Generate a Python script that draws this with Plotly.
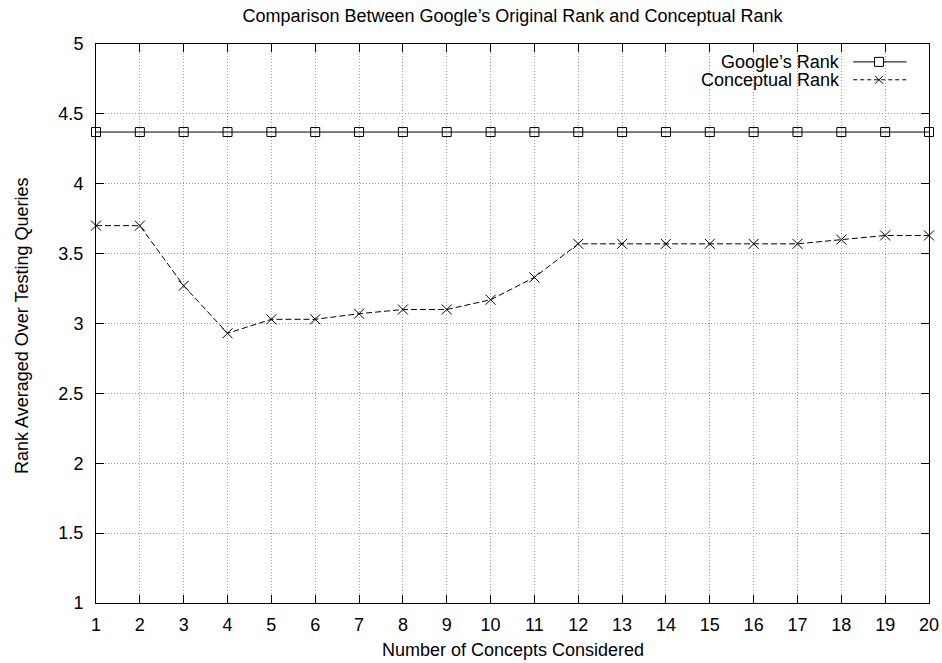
import plotly.graph_objects as go

concepts = list(range(1, 21))
google_rank = [4.37] * 20
conceptual_rank = [3.70, 3.70, 3.27, 2.93, 3.03, 3.03, 3.07, 3.10, 3.10, 3.17,
                   3.33, 3.57, 3.57, 3.57, 3.57, 3.57, 3.57, 3.60, 3.63, 3.63]
y_ticks = [1, 1.5, 2, 2.5, 3, 3.5, 4, 4.5, 5]
y_tick_labels = ["1", "1.5", "2", "2.5", "3", "3.5", "4", "4.5", "5"]
series_names = ["Google\u2019s Rank", "Conceptual Rank"]

FONT = "Liberation Sans, Arial, Helvetica, sans-serif"
FS = 18

fig = go.Figure()
fig.add_trace(go.Scatter(
    x=concepts, y=google_rank, mode="lines+markers", name=series_names[0],
    line=dict(color="black", width=1),
    marker=dict(symbol="square-open", size=9, color="black", line=dict(width=1)),
    cliponaxis=False, showlegend=False))
fig.add_trace(go.Scatter(
    x=concepts, y=conceptual_rank, mode="lines+markers", name=series_names[1],
    line=dict(color="black", width=1, dash="6px,3px"),
    marker=dict(symbol="x-thin-open", size=10, color="black", line=dict(width=1, color="black")),
    cliponaxis=False, showlegend=False))

axis_common = dict(
    showline=True, linecolor="black", linewidth=1, mirror="ticks",
    ticks="inside", ticklen=8, tickcolor="black", tickwidth=1,
    showgrid=True, gridcolor="#9a9a9a", griddash="1px,2px", gridwidth=1,
    zeroline=False, automargin=False,
    tickfont=dict(family=FONT, size=FS, color="black"),
)

fig.update_xaxes(range=[1, 20], tickmode="array", tickvals=concepts,
                 ticktext=[str(c) for c in concepts], ticklabelstandoff=5, **axis_common)
fig.update_yaxes(range=[1, 5], tickmode="array", tickvals=y_ticks,
                 ticktext=y_tick_labels, ticklabelstandoff=8, **axis_common)

# legend (gnuplot style: text on left, sample on right)
leg_text_x = 0.895
leg_line_x0, leg_line_x1, leg_mark_x = 0.909, 0.973, 0.94
leg_y = [0.968, 0.936]
annotations = []
shapes = []
for name, yy in zip(series_names, leg_y):
    annotations.append(dict(x=leg_text_x, y=yy, xref="paper", yref="paper",
                            text=name, showarrow=False, xanchor="right", yanchor="middle",
                            font=dict(family=FONT, size=FS, color="black")))
shapes.append(dict(type="line", xref="paper", yref="paper", x0=leg_line_x0, x1=leg_line_x1,
                   y0=leg_y[0], y1=leg_y[0], line=dict(color="black", width=1)))
shapes.append(dict(type="line", xref="paper", yref="paper", x0=leg_line_x0, x1=leg_line_x1,
                   y0=leg_y[1], y1=leg_y[1], line=dict(color="black", width=1, dash="4px,3px")))
shapes.append(dict(type="rect", xref="paper", yref="paper", xsizemode="pixel", ysizemode="pixel",
                   xanchor=leg_mark_x, yanchor=leg_y[0], x0=-4.5, x1=4.5, y0=-4.5, y1=4.5,
                   line=dict(color="black", width=1), fillcolor="white"))
shapes.append(dict(type="path", xref="paper", yref="paper", xsizemode="pixel", ysizemode="pixel",
                   xanchor=leg_mark_x, yanchor=leg_y[1],
                   path="M-4,-4L4,4M-4,4L4,-4", line=dict(color="black", width=1)))

# axis titles
annotations.append(dict(x=0.5, y=-0.084, xref="paper", yref="paper",
                        text="Number of Concepts Considered", showarrow=False,
                        xanchor="center", yanchor="middle",
                        font=dict(family=FONT, size=FS, color="black")))
annotations.append(dict(x=-0.089, y=0.497, xref="paper", yref="paper",
                        text="Rank Averaged Over Testing Queries", showarrow=False,
                        textangle=-90, xanchor="center", yanchor="middle",
                        font=dict(family=FONT, size=FS, color="black")))

fig.update_layout(
    width=942, height=663,
    margin=dict(l=96, r=13, t=44, b=60, autoexpand=False),
    paper_bgcolor="white", plot_bgcolor="white",
    title=dict(text="Comparison Between Google\u2019s Original Rank and Conceptual Rank",
               x=0.5, xref="paper", xanchor="center", y=1 - 16 / 663, yanchor="middle",
               yref="container",
               font=dict(family=FONT, size=FS, color="black")),
    annotations=annotations, shapes=shapes, showlegend=False,
)

fig.write_html("out.html", config={"displayModeBar": False},
               post_script="document.body.style.margin='0';document.body.style.overflow='hidden';")
